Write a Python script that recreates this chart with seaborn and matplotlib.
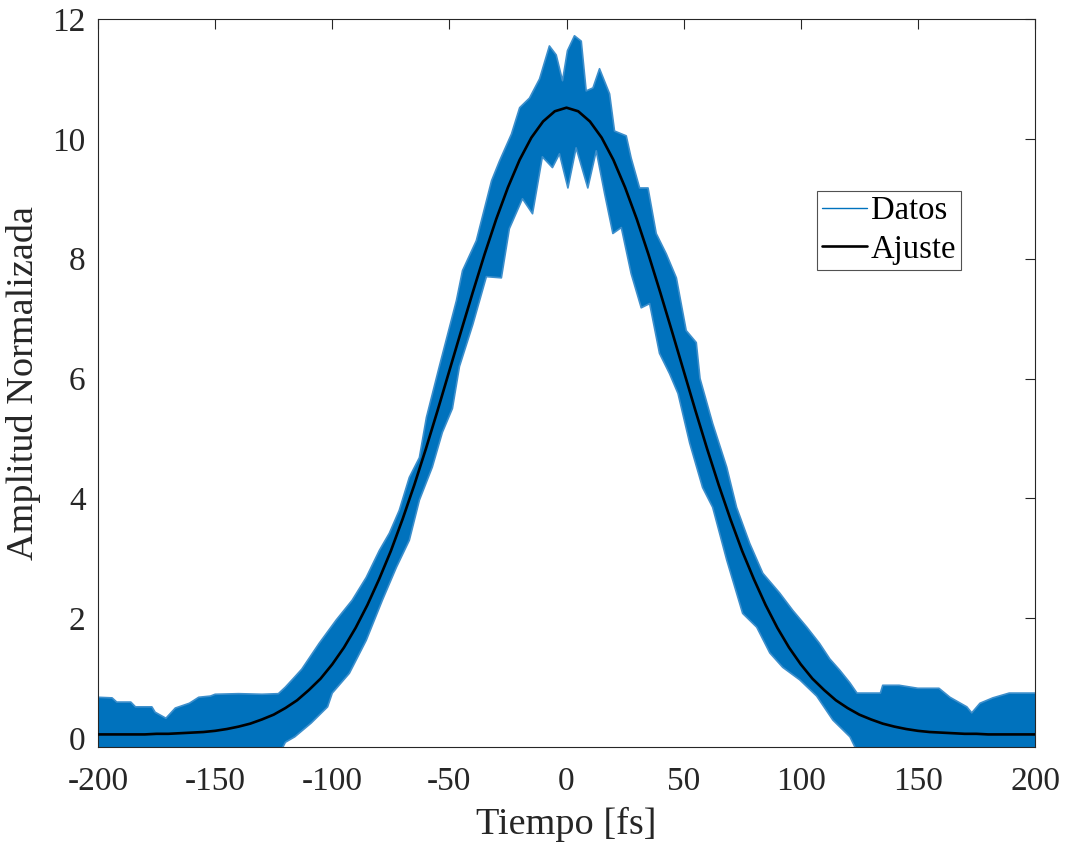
import numpy as np
import pandas as pd
import matplotlib
matplotlib.use("Agg")
import matplotlib.pyplot as plt
import seaborn as sns
from matplotlib.lines import Line2D

# ---------------- data ----------------
# Upper envelope of the measured (oscillating) signal "Datos"
upper_t = [-200, -194, -192, -186, -184, -177, -175.6, -171, -167, -161, -157, -152,
           -150, -140, -130, -123, -120, -116, -113, -105.6, -98.3, -91.5, -85.5,
           -79.9, -75.6, -71.4, -67.1, -62.8, -59.8, -54.3, -47, -44.4, -38.5, -32,
           -28.6, -23.5, -20, -15.8, -11.5, -7.3, -4.4, -1.7, 0.4, 3.4, 6.3, 8.4,
           11.3, 14.1, 18.4, 20.5, 25.5, 27.6, 31.2, 34.8, 38.3, 42.6, 46.9, 51.1,
           55.4, 57, 62.4, 68.4, 72.6, 78.2, 83.8, 91, 96.6, 102.6, 108, 112.4,
           116.7, 121, 124, 134, 135, 142, 150, 159, 163.7, 170.9, 173, 176.5, 182,
           189, 200]
upper_amp = [0.68, 0.67, 0.60, 0.60, 0.52, 0.52, 0.43, 0.33, 0.50, 0.58, 0.68, 0.70,
             0.73, 0.74, 0.73, 0.74, 0.85, 1.02, 1.15, 1.58, 1.97, 2.30, 2.68,
             3.13, 3.42, 3.80, 4.35, 4.68, 5.35, 6.20, 7.30, 7.80, 8.30, 9.30,
             9.63, 10.08, 10.52, 10.68, 11.00, 11.55, 11.40, 10.97, 11.47, 11.72, 11.63, 10.80,
             10.85, 11.17, 10.75, 10.13, 10.05, 9.68, 9.18, 9.18, 8.42, 8.08, 7.68, 6.80,
             6.60, 6.00, 5.25, 4.52, 3.85, 3.25, 2.75, 2.42, 2.13, 1.85, 1.58, 1.32,
             1.13, 0.92, 0.75, 0.75, 0.88, 0.88, 0.83, 0.83, 0.68, 0.52, 0.42, 0.58, 0.67,
             0.75, 0.75]

# Lower envelope of the measured signal
lower_t = [-200, -123, -120, -116, -109, -102, -100, -92.7, -85.5, -78.6, -72.6,
           -67.1, -62.8, -57.3, -53, -48.7, -45.7, -40, -34.2, -27.8, -24.4, -18.8,
           -14.5, -10.3, -6, -3, 0.6, 4.1, 9.1, 12.7, 16.3, 19.8, 23.4, 27.6, 31.9,
           35.5, 39.7, 44, 47.6, 52.6, 58.1, 62.4, 68.4, 75.2, 81.2, 86.8, 92.3,
           99.6, 106.8, 113.7, 121, 125, 200]
lower_amp = [-0.3, -0.3, -0.07, 0.02, 0.25, 0.52, 0.75, 1.08, 1.63, 2.30, 2.85,
             3.30, 3.97, 4.52, 5.10, 5.50, 6.20, 6.90, 7.70, 7.68, 8.50, 9.00,
             8.75, 9.70, 9.52, 9.75, 9.18, 9.85, 9.18, 9.80, 9.08, 8.42, 8.52, 7.75, 7.18,
             7.25, 6.42, 6.08, 5.75, 4.92, 4.18, 3.85, 2.97, 2.08, 1.85, 1.42, 1.18,
             0.97, 0.70, 0.30, 0.02, -0.3, -0.3]

# Fitted curve "Ajuste"
fit_t = list(range(-200, 205, 5))
fit_half = [10.52, 10.46, 10.29, 10.02, 9.65, 9.19, 8.66, 8.07, 7.44, 6.79, 6.13,
            5.47, 4.83, 4.22, 3.65, 3.12, 2.65, 2.22, 1.84, 1.51, 1.23, 0.99, 0.80,
            0.63, 0.50, 0.39, 0.31, 0.24, 0.19, 0.15, 0.12, 0.10, 0.09, 0.08, 0.07,
            0.07, 0.06, 0.06, 0.06, 0.06, 0.06]
fit_amp = fit_half[::-1] + fit_half[1:]

x_ticks = [-200, -150, -100, -50, 0, 50, 100, 150, 200]
y_ticks = [0, 2, 4, 6, 8, 10, 12]

# ---------------- styling ----------------
sns.set_style("white")
plt.rcParams["font.family"] = ["Liberation Serif", "DejaVu Serif"]
plt.rcParams["axes.unicode_minus"] = False

BLUE = "#0072BD"
EDGE_BLUE = "#3D8FCC"
GRAY = "#262626"

fig = plt.figure(figsize=(10.67, 8.46), dpi=100)
ax = fig.add_axes([98 / 1067, 1 - 747 / 846, (1035 - 98) / 1067, (747 - 19) / 846])

# Data band (filled between the envelopes)
poly_x = upper_t + lower_t[::-1]
poly_y = upper_amp + lower_amp[::-1]
ax.fill(poly_x, poly_y, color=BLUE, lw=0, zorder=1)

df_up = pd.DataFrame({"t": upper_t, "amp": upper_amp})
df_lo = pd.DataFrame({"t": lower_t, "amp": lower_amp})
sns.lineplot(data=df_up, x="t", y="amp", ax=ax, color=EDGE_BLUE, lw=1.2, zorder=2)
sns.lineplot(data=df_lo, x="t", y="amp", ax=ax, color=EDGE_BLUE, lw=1.2, zorder=2)

df_fit = pd.DataFrame({"t": fit_t, "amp": fit_amp})
sns.lineplot(data=df_fit, x="t", y="amp", ax=ax, color="black", lw=1.9, zorder=3)

ax.set_xlim(-200, 200)
ax.set_ylim(-0.15, 12)
ax.set_xticks(x_ticks)
ax.set_yticks(y_ticks)
ax.set_xticklabels([str(v) for v in x_ticks])
ax.set_yticklabels([str(v) for v in y_ticks])

ax.tick_params(direction="in", length=7, width=0.8, colors=GRAY, labelsize=24,
               top=True, right=True, labeltop=False, labelright=False)
ax.tick_params(axis="x", pad=14)
ax.tick_params(axis="y", pad=9)
for s in ax.spines.values():
    s.set_color(GRAY)
    s.set_linewidth(0.8)
    s.set_visible(True)

ax.set_xlabel("Tiempo [fs]", fontsize=27.5, color=GRAY, labelpad=7)
ax.set_ylabel("Amplitud Normalizada", fontsize=27.5, color=GRAY, labelpad=8)

handles = [Line2D([0], [0], color=BLUE, lw=1.0),
           Line2D([0], [0], color="black", lw=1.9)]
leg = ax.legend(handles, ["Datos", "Ajuste"], loc="upper left",
                bbox_to_anchor=(0.767, 0.764), borderaxespad=0, fontsize=23.5,
                frameon=True, fancybox=False, handlelength=1.4, handletextpad=0.1,
                borderpad=0.15, labelspacing=0.25)
leg.get_frame().set_edgecolor(GRAY)
leg.get_frame().set_linewidth(0.8)
for t in leg.get_texts():
    t.set_color("black")

fig.savefig("out.png", dpi=100)
